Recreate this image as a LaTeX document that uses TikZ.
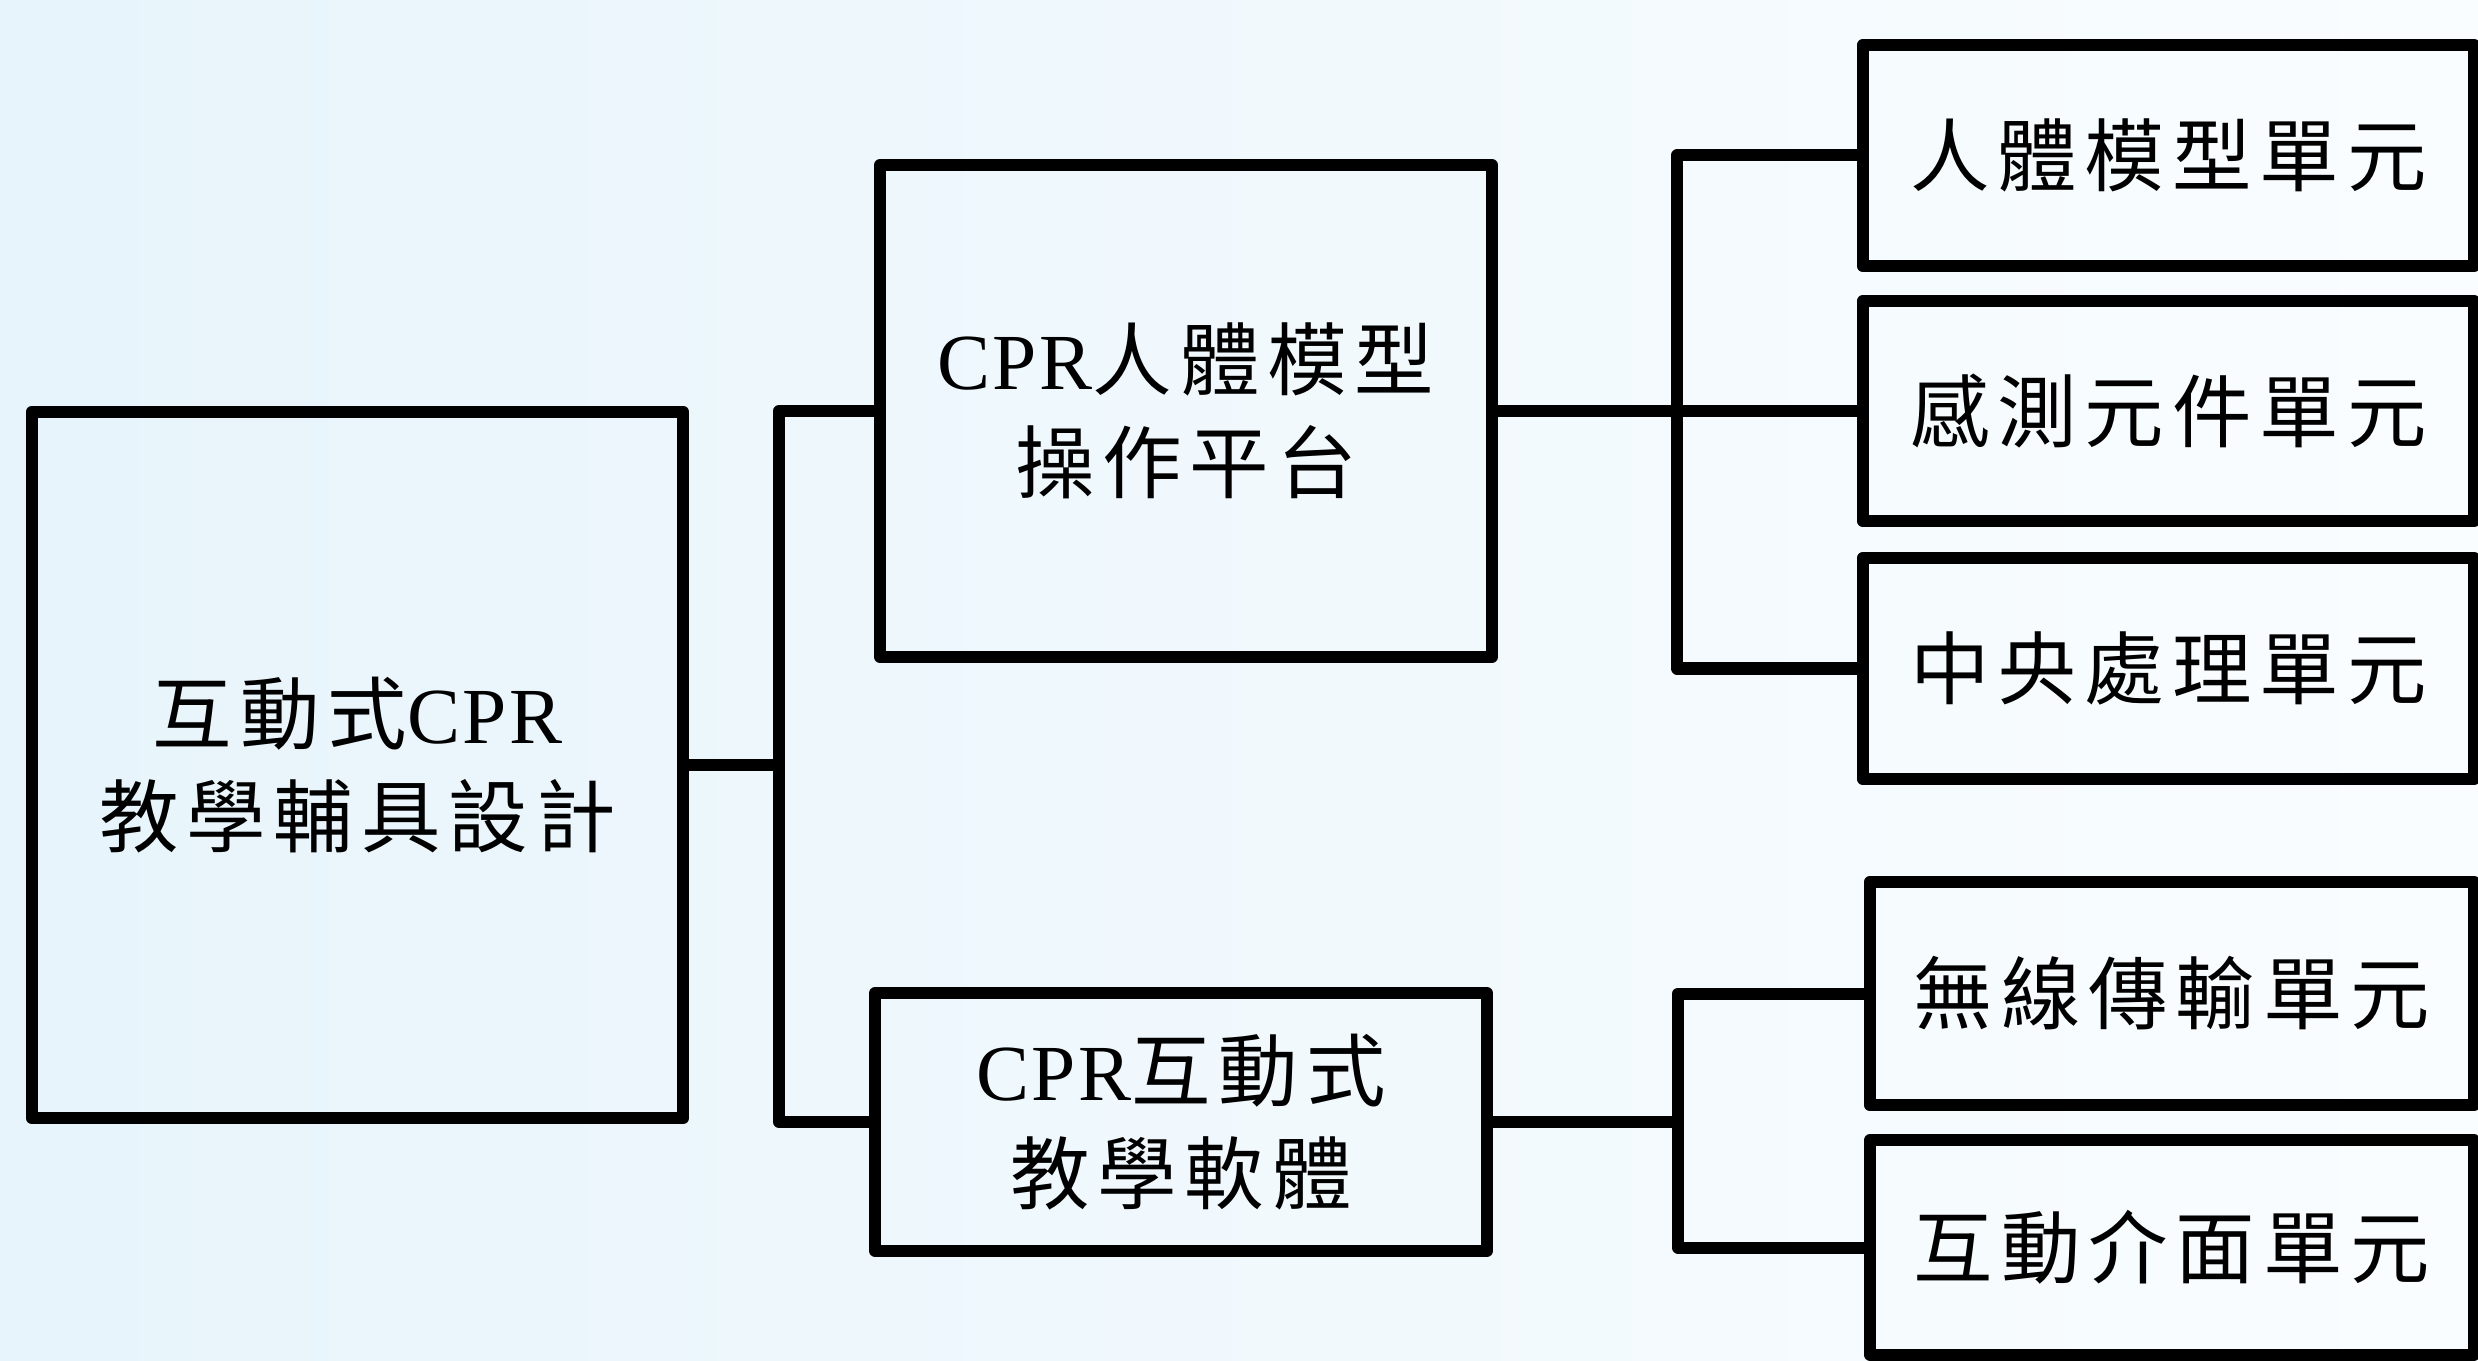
\documentclass[tikz,border=0pt]{standalone}
\usepackage{fontspec}
\setmainfont[LetterSpace=3]{Liberation Serif}
\newfontfamily\cjk[LetterSpace=10]{Noto Sans CJK TC}
\newcommand\boxfont{\fontsize{22.6pt}{29.3pt}\selectfont\cjk}
\newcommand\lat[1]{{\rmfamily #1}}
\definecolor{bgL}{RGB}{231,244,251}
\definecolor{bgR}{RGB}{250,253,255}
\tikzset{
  box/.style={draw=black, line width=0.12cm, line join=round, inner sep=0pt,
    align=center, font=\boxfont, text=black},
  conn/.style={draw=black, line width=0.12cm, line join=round, line cap=butt}
}
\begin{document}
\begin{tikzpicture}[x=0.01cm,y=-0.01cm]
\useasboundingbox (0,0) rectangle (2478,1361);
\shade[left color=bgL, right color=bgR] (0,0) rectangle (2478,1361);

\node[box, minimum width=6.51cm, minimum height=7.06cm] (L) at (357.5,765) {互動式\lat{CPR}\\教學輔具設計};
\node[box, minimum width=6.12cm, minimum height=4.91cm] (T) at (1186,411) {\lat{CPR}人體模型\\操作平台};
\node[box, minimum width=6.12cm, minimum height=2.57cm] (B) at (1181,1122) {\lat{CPR}互動式\\教學軟體};

\node[box, minimum width=6.11cm, minimum height=2.21cm] (R1) at (2168.5,155.5) {人體模型單元};
\node[box, minimum width=6.11cm, minimum height=2.20cm] (R2) at (2168.5,411) {感測元件單元};
\node[box, minimum width=6.11cm, minimum height=2.21cm] (R3) at (2168.5,668.5) {中央處理單元};
\node[box, minimum width=6.04cm, minimum height=2.23cm] (R4) at (2172,993.5) {無線傳輸單元};
\node[box, minimum width=6.04cm, minimum height=2.14cm] (R5) at (2172,1247.5) {互動介面單元};

\coordinate (sL) at (779,765);
\coordinate (sT) at (1677,411);
\coordinate (sB) at (1678,1122);

\draw[conn] (L.east) -- (sL);
\draw[conn] (T.west) -| (sL) |- (B.west);

\draw[conn] (T.east) -- (sT) -- (R2.west);
\draw[conn] (R1.west) -| (sT) |- (R3.west);

\draw[conn] (B.east) -- (sB);
\draw[conn] (R4.west) -| (sB) |- (R5.west);
\end{tikzpicture}
\end{document}
